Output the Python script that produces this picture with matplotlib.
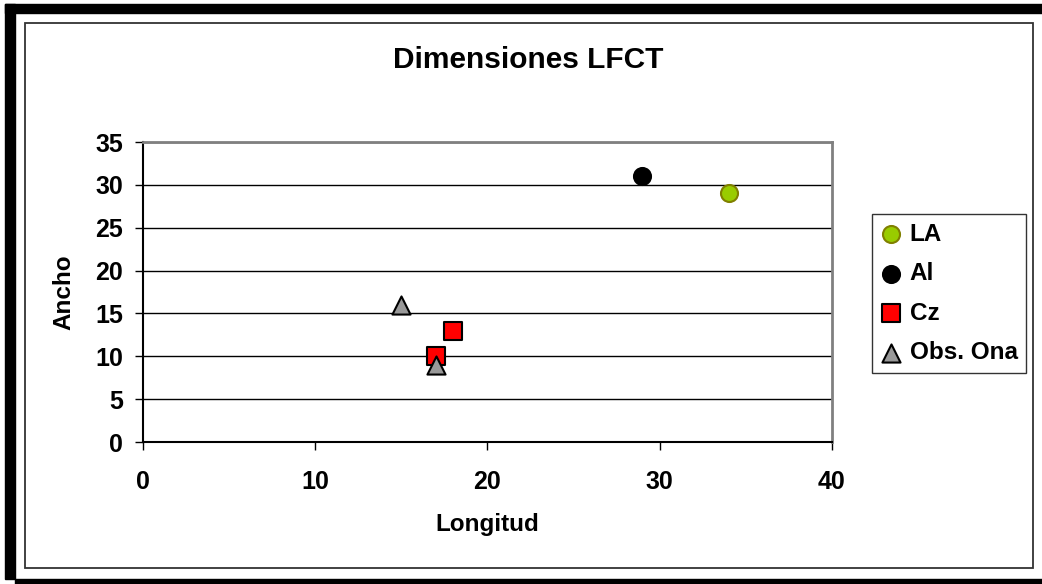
import matplotlib
matplotlib.use("Agg")
import matplotlib.pyplot as plt
from matplotlib.patches import Rectangle

plt.rcParams['font.family'] = ['Liberation Sans', 'DejaVu Sans']
plt.rcParams['font.weight'] = 'bold'

# data
la_x = [34]
la_y = [29]
al_x = [29]
al_y = [31]
cz_x = [17, 18]
cz_y = [10, 13]
ona_x = [15, 17]
ona_y = [16, 9]
xticks = [0, 10, 20, 30, 40]
yticks = [0, 5, 10, 15, 20, 25, 30, 35]

W, H = 1042, 584
fig = plt.figure(figsize=(W / 100, H / 100), dpi=100)

def fx(px):
    return px / W

def fy(py):
    return 1 - py / H

# outer black border (thick band top / left / bottom)
fig.patches.append(Rectangle((fx(5), fy(13)), fx(1042 - 5), fy(4) - fy(13),
                             transform=fig.transFigure, color='black', zorder=0))
fig.patches.append(Rectangle((fx(5), fy(579)), fx(10), fy(4) - fy(579),
                             transform=fig.transFigure, color='black', zorder=0))
fig.patches.append(Rectangle((fx(15), fy(584)), fx(1042 - 15), fy(579) - fy(584),
                             transform=fig.transFigure, color='black', zorder=0))
# inner thin frame
fig.patches.append(Rectangle((fx(25), fy(568)), fx(1033 - 25), fy(23) - fy(568),
                             transform=fig.transFigure, fill=False,
                             edgecolor='#333333', linewidth=1.3, zorder=0))

ax = fig.add_axes([fx(142.5), fy(442), fx(832 - 142.5), fy(142) - fy(442)])

ax.scatter(la_x, la_y, marker='o', s=150, color='#99CC00', edgecolors='#808000',
           linewidths=1.5, label='LA', zorder=3)
ax.scatter(al_x, al_y, marker='o', s=150, color='black', edgecolors='black',
           linewidths=1.5, label='Al', zorder=3)
ax.scatter(cz_x, cz_y, marker='s', s=150, color='#FF0000', edgecolors='black',
           linewidths=1.5, label='Cz', zorder=3)
ax.scatter(ona_x, ona_y, marker='^', s=170, color='#999999', edgecolors='black',
           linewidths=1.5, label='Obs. Ona', zorder=4)

ax.set_xlim(0, 40)
ax.set_ylim(0, 35)
ax.set_xticks(xticks)
ax.set_yticks(yticks)
ax.tick_params(axis='both', labelsize=18, width=1, length=6, direction='out')
ax.tick_params(axis='x', pad=14)
ax.tick_params(axis='y', pad=8)
for lbl in ax.get_xticklabels() + ax.get_yticklabels():
    lbl.set_fontweight('bold')

ax.grid(axis='y', color='black', linewidth=1)
ax.set_axisbelow(True)
for side in ['top', 'right']:
    ax.spines[side].set_color('#808080')
    ax.spines[side].set_linewidth(2)
for side in ['left', 'bottom']:
    ax.spines[side].set_color('black')
    ax.spines[side].set_linewidth(1.5)

ax.set_xlabel('Longitud', fontsize=17.5, fontweight='bold', labelpad=14)
ax.set_ylabel('Ancho', fontsize=17.5, fontweight='bold', labelpad=14)

fig.text(fx(528), fy(60), 'Dimensiones LFCT', fontsize=21.5, fontweight='bold',
         ha='center', va='center')

leg = ax.legend(loc='upper left', bbox_to_anchor=(fx(872), fy(214)),
                bbox_transform=fig.transFigure, frameon=True, fancybox=False,
                edgecolor='black', prop={'size': 17.5, 'weight': 'bold'},
                handletextpad=0.3, handlelength=0.9, labelspacing=0.68,
                borderpad=0.35, borderaxespad=0, handleheight=0.7,
                scatterpoints=1, markerscale=1.0)
leg.get_frame().set_linewidth(1)

fig.savefig('out.png', dpi=100)
